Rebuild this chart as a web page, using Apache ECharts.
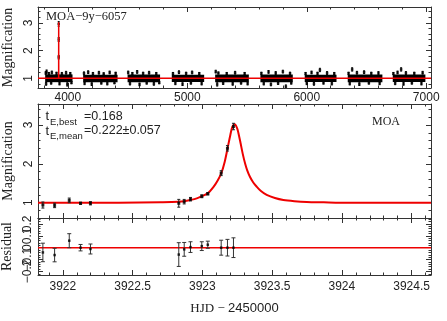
<!DOCTYPE html>
<html>
<head>
<meta charset="utf-8">
<script src="https://cdn.jsdelivr.net/npm/echarts@6/dist/echarts.min.js"></script>
<style>
html, body { margin: 0; padding: 0; background: #fff; }
#main { width: 447px; height: 321px; }
</style>
</head>
<body>
<div id="main"></div>
<script>
// MOA seasons (HJD-2450000) and the dense core band of the baseline points
var seasonStart = [3810, 4128, 4500, 4870, 5233, 5612, 5983, 6343, 6720];
var seasonEnd   = [4039, 4416, 4772, 5141, 5515, 5883, 6249, 6633, 6993];
var seasonLow   = [0.86, 0.86, 0.86, 0.87, 0.86, 0.86, 0.87, 0.86, 0.87];
var seasonHigh  = [1.14, 1.13, 1.14, 1.13, 1.14, 1.14, 1.13, 1.14, 1.14];

// scattered points sticking out of the bands: [hjd, mag, err]
var baseOutliers = [
  [3815,1.19,0.05],[3822,1.24,0.06],[3841,1.17,0.04],[3866,1.21,0.05],[3905,1.18,0.04],[3950,1.16,0.05],[3985,1.20,0.05],[4020,1.17,0.04],
  [3818,0.80,0.05],[3860,0.83,0.04],[3930,0.81,0.05],[3995,0.78,0.06],[4030,0.84,0.04],
  [4135,1.18,0.05],[4170,1.22,0.05],[4210,1.17,0.04],[4260,1.20,0.05],[4300,1.16,0.04],[4350,1.21,0.05],[4400,1.18,0.04],
  [4140,0.82,0.05],[4200,0.79,0.05],[4280,0.83,0.04],[4330,0.81,0.05],[4390,0.84,0.04],
  [4505,1.21,0.05],[4540,1.17,0.04],[4580,1.23,0.05],[4630,1.18,0.04],[4680,1.20,0.05],[4740,1.17,0.04],
  [4520,0.81,0.05],[4600,0.78,0.05],[4660,0.83,0.04],[4720,0.80,0.05],[4765,0.84,0.04],
  [4880,1.17,0.04],[4930,1.22,0.05],[4990,1.18,0.04],[5040,1.21,0.05],[5100,1.17,0.04],
  [4900,0.82,0.05],[4960,0.79,0.05],[5030,0.83,0.04],[5120,0.81,0.05],
  [5238,1.24,0.05],[5260,1.19,0.04],[5330,1.17,0.04],[5400,1.20,0.05],[5480,1.17,0.04],
  [5250,0.78,0.06],[5300,0.82,0.04],[5380,0.80,0.05],[5450,0.83,0.04],[5505,0.81,0.05],
  [5620,1.18,0.04],[5680,1.23,0.05],[5740,1.19,0.05],[5800,1.24,0.05],[5860,1.18,0.04],
  [5640,0.81,0.05],[5700,0.78,0.05],[5760,0.82,0.04],[5825,0.70,0.06],[5870,0.83,0.04],
  [5990,1.17,0.04],[6040,1.21,0.05],[6090,1.18,0.04],[6110,1.30,0.06],[6170,1.19,0.05],[6230,1.17,0.04],
  [6000,0.82,0.05],[6060,0.80,0.05],[6140,0.83,0.04],[6210,0.81,0.05],
  [6350,1.18,0.04],[6380,1.32,0.06],[6420,1.20,0.05],[6480,1.22,0.05],[6540,1.18,0.04],[6600,1.19,0.05],
  [6360,0.81,0.05],[6440,0.79,0.05],[6520,0.83,0.04],[6610,0.82,0.05],
  [6725,1.17,0.04],[6760,1.21,0.05],[6790,1.32,0.06],[6830,1.19,0.05],[6900,1.18,0.04],[6970,1.20,0.05],
  [6740,0.82,0.05],[6810,0.80,0.05],[6880,0.83,0.04],[6960,0.81,0.05]
];

// event points (HJD-2450000), magnification, error, residual
var ptT   = [3921.857, 3921.941, 3922.046, 3922.127, 3922.198, 3922.831, 3922.870, 3922.915, 3922.996, 3923.039, 3923.135, 3923.180, 3923.223];
var ptA   = [0.94, 0.93, 1.06, 0.985, 0.985, 0.985, 1.026, 1.09, 1.165, 1.23, 1.76, 2.40, 2.96];
var ptErr = [0.078, 0.057, 0.059, 0.027, 0.042, 0.10, 0.058, 0.045, 0.037, 0.03, 0.063, 0.07, 0.083];
var ptRes = [-0.04, -0.062, 0.059, 0, -0.011, -0.058, -0.014, 0.005, 0.013, 0.025, 0, 0, 0];

// best-fit model
var modelT = [3921.822, 3922.40, 3922.70, 3922.78, 3922.87, 3922.915, 3922.96, 3922.999, 3923.039, 3923.079, 3923.11, 3923.137, 3923.16, 3923.178, 3923.201, 3923.215, 3923.232, 3923.249, 3923.258, 3923.273, 3923.290, 3923.307, 3923.321, 3923.342, 3923.365, 3923.390, 3923.42, 3923.461, 3923.52, 3923.581, 3923.66, 3923.748, 3923.87, 3923.987, 3924.639];
var modelA = [1.00, 1.00, 1.01, 1.015, 1.04, 1.07, 1.11, 1.17, 1.24, 1.40, 1.57, 1.77, 2.05, 2.35, 2.75, 2.95, 3.02, 2.92, 2.80, 2.55, 2.25, 2.00, 1.84, 1.66, 1.52, 1.41, 1.30, 1.20, 1.12, 1.07, 1.04, 1.02, 1.01, 1.00, 1.00];
var fullModelT = [3750, 3922.9, 3923.23, 3923.6, 7040];
var fullModelA = [1, 1, 3.02, 1, 1];

var AX = '#333';
var RED = '#ee0000';

function fmt(v) {
  return String(+v.toFixed(2)).replace('-', '\u2212');
}

function axis(o) {
  var a = {
    type: 'value', gridIndex: o.grid, position: o.pos, min: o.min, max: o.max,
    splitNumber: o.split,
    axisLine: { show: true, onZero: false, lineStyle: { color: AX, width: 1 } },
    axisTick: { show: true, inside: true, length: 5, lineStyle: { color: AX, width: 1 } },
    minorTick: { show: true, splitNumber: o.minor || 5, length: 2.5, lineStyle: { color: AX, width: 1 } },
    splitLine: { show: false },
    axisLabel: { show: false }
  };
  if (o.label) {
    a.axisLabel = {
      show: true, showMinLabel: false, showMaxLabel: false,
      color: '#222', fontFamily: 'Liberation Sans', fontSize: 12,
      margin: o.label.margin, rotate: o.label.rotate || 0, formatter: fmt
    };
  }
  if (o.name) {
    a.name = o.name;
    a.nameLocation = 'middle';
    a.nameGap = o.nameGap;
    a.nameTextStyle = o.nameStyle;
  }
  return a;
}

function bandItem(params, api) {
  var p0 = api.coord([api.value(0), api.value(3)]);
  var p1 = api.coord([api.value(1), api.value(2)]);
  return { type: 'rect', shape: { x: p0[0], y: p0[1], width: p1[0] - p0[0], height: p1[1] - p0[1] }, style: { fill: '#000' } };
}

function errBars(cap, color) {
  return function (params, api) {
    var x = api.value(0), y = api.value(1), e = api.value(2);
    var hi = api.coord([x, y + e]), lo = api.coord([x, y - e]);
    var st = { stroke: color, lineWidth: 1 };
    return { type: 'group', children: [
      { type: 'line', shape: { x1: hi[0], y1: hi[1], x2: lo[0], y2: lo[1] }, style: st },
      { type: 'line', shape: { x1: hi[0] - cap, y1: hi[1], x2: hi[0] + cap, y2: hi[1] }, style: st },
      { type: 'line', shape: { x1: lo[0] - cap, y1: lo[1], x2: lo[0] + cap, y2: lo[1] }, style: st }
    ] };
  };
}

function label(x, y, text, size, family) {
  return { type: 'text', x: x, y: y, z: 100,
    style: { text: text, fontSize: size, fontFamily: family || 'Liberation Sans', fill: '#222', verticalAlign: 'middle' } };
}

var bands = seasonStart.map(function (s, i) { return [s, seasonEnd[i], seasonLow[i], seasonHigh[i]]; });
var eventPts = ptT.map(function (t, i) { return [t, ptA[i], ptErr[i]]; });
var resPts = ptT.map(function (t, i) { return [t, ptRes[i], ptErr[i]]; });
var topPts = baseOutliers.concat(eventPts.slice(10));
var modelLine = modelT.map(function (t, i) { return [t, modelA[i]]; });
var fullLine = fullModelT.map(function (t, i) { return [t, fullModelA[i]]; });

var serifName = { fontFamily: 'Liberation Serif', fontSize: 14, color: '#222' };

var chart = echarts.init(document.getElementById('main'));
chart.setOption({
  animation: false,
  backgroundColor: '#fff',
  grid: [
    { left: 38, top: 7, width: 393, height: 81, containLabel: false, outerBoundsMode: 'none' },
    { left: 38, top: 104, width: 393, height: 114, containLabel: false, outerBoundsMode: 'none' },
    { left: 38, top: 218, width: 393, height: 57, containLabel: false, outerBoundsMode: 'none' }
  ],
  xAxis: [
    axis({ grid: 0, pos: 'bottom', min: 3750, max: 7040, split: 3, label: { margin: 4 } }),
    axis({ grid: 0, pos: 'top', min: 3750, max: 7040, split: 3 }),
    axis({ grid: 1, pos: 'bottom', min: 3921.822, max: 3924.639, split: 5 }),
    axis({ grid: 1, pos: 'top', min: 3921.822, max: 3924.639, split: 5 }),
    axis({ grid: 2, pos: 'bottom', min: 3921.822, max: 3924.639, split: 5, label: { margin: 6 },
      name: '{s|HJD \u2212} {n|2450000}', nameGap: 27,
      nameStyle: { rich: { s: { fontFamily: 'Liberation Serif', fontSize: 13, color: '#222' }, n: { fontFamily: 'Liberation Sans', fontSize: 13, color: '#222' } } } }),
    axis({ grid: 2, pos: 'top', min: 3921.822, max: 3924.639, split: 5 })
  ],
  yAxis: [
    axis({ grid: 0, pos: 'left', min: 0.65, max: 3.57, split: 3, label: { margin: 3, rotate: 90 }, name: 'Magnification', nameGap: 21, nameStyle: serifName }),
    axis({ grid: 0, pos: 'right', min: 0.65, max: 3.57, split: 3 }),
    axis({ grid: 1, pos: 'left', min: 0.606, max: 3.54, split: 3, label: { margin: 3, rotate: 90 }, name: 'Magnification', nameGap: 21, nameStyle: serifName }),
    axis({ grid: 1, pos: 'right', min: 0.606, max: 3.54, split: 3 }),
    axis({ grid: 2, pos: 'left', min: -0.23, max: 0.25, split: 5, label: { margin: 4, rotate: 90 }, name: 'Residual', nameGap: 21, nameStyle: serifName }),
    axis({ grid: 2, pos: 'right', min: -0.23, max: 0.25, split: 5 })
  ],
  series: [
    { type: 'custom', xAxisIndex: 0, yAxisIndex: 0, clip: true, data: bands, renderItem: bandItem, z: 2, silent: true },
    { type: 'custom', xAxisIndex: 0, yAxisIndex: 0, clip: true, data: topPts, renderItem: errBars(1, '#000'), encode: { x: 0, y: 1 }, z: 2, silent: true },
    { type: 'scatter', xAxisIndex: 0, yAxisIndex: 0, data: topPts, symbol: 'rect', symbolSize: 2.5, itemStyle: { color: '#000' }, z: 3, silent: true },
    { type: 'line', xAxisIndex: 0, yAxisIndex: 0, data: fullLine, symbol: 'none', lineStyle: { color: RED, width: 1.5 }, z: 5, silent: true },

    { type: 'line', xAxisIndex: 2, yAxisIndex: 2, data: modelLine, symbol: 'none', smooth: 0.3, lineStyle: { color: RED, width: 2 }, z: 3, silent: true },
    { type: 'custom', xAxisIndex: 2, yAxisIndex: 2, clip: true, data: eventPts, renderItem: errBars(1.5, '#222'), encode: { x: 0, y: 1 }, z: 4, silent: true },
    { type: 'scatter', xAxisIndex: 2, yAxisIndex: 2, data: eventPts, symbol: 'rect', symbolSize: 3, itemStyle: { color: '#000' }, z: 5, silent: true },

    { type: 'line', xAxisIndex: 4, yAxisIndex: 4, data: [[3921.822, 0], [3924.639, 0]], symbol: 'none', lineStyle: { color: RED, width: 1.5 }, z: 3, silent: true },
    { type: 'custom', xAxisIndex: 4, yAxisIndex: 4, clip: true, data: resPts, renderItem: errBars(2, '#333'), encode: { x: 0, y: 1 }, z: 4, silent: true },
    { type: 'scatter', xAxisIndex: 4, yAxisIndex: 4, data: resPts, symbol: 'rect', symbolSize: 2.5, itemStyle: { color: '#000' }, z: 5, silent: true }
  ],
  graphic: [
    label(46, 17, 'MOA\u22129y\u22126057', 12.5, 'Liberation Serif'),
    label(372, 122, 'MOA', 12, 'Liberation Serif'),
    label(45.5, 116.5, 't', 13),
    label(50, 122, 'E,best', 9.5),
    label(84, 116.5, '=0.168', 12.5),
    label(45.5, 131, 't', 13),
    label(50, 136.5, 'E,mean', 9.5),
    label(84, 131, '=0.222\u00b10.057', 12.5)
  ]
});
</script>
</body>
</html>
